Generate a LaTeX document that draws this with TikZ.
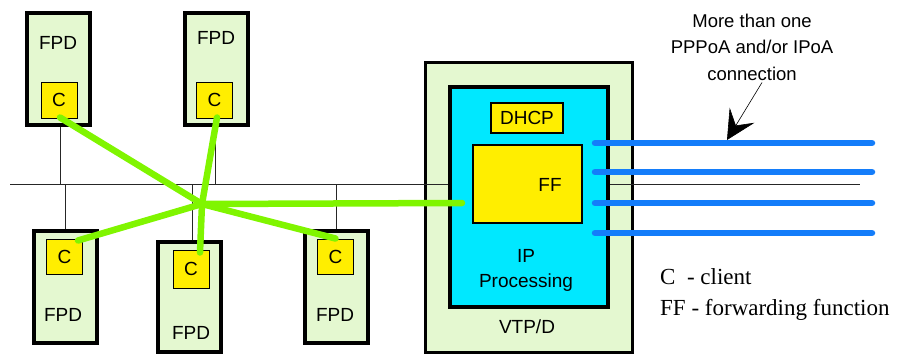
\documentclass[tikz,border=0pt]{standalone}
\usepackage{fontspec}
\setmainfont{Liberation Serif}
\setsansfont{Liberation Sans}
\usepackage{tikz}
\usetikzlibrary{
  arrows.meta,
  positioning,
  calc
}
\definecolor{fpdgreen}{RGB}{228,248,208}
\definecolor{cyellow}{RGB}{255,238,0}
\definecolor{ipcyan}{RGB}{0,232,255}
\definecolor{vcgreen}{RGB}{128,245,0}
\definecolor{pipeblue}{RGB}{20,125,250}
\newcommand{\labfont}{\fontsize{19}{25}\selectfont\sffamily}

\begin{document}
\begin{tikzpicture}[x=1pt, y=-1pt,
  fpd/.style={draw=black, fill=fpdgreen, line width=4pt, inner sep=0pt,
              minimum width=63pt, minimum height=112pt},
  client/.style={draw=black, fill=cyellow, line width=1pt, inner sep=0pt,
                 minimum width=36pt, minimum height=36pt, font=\labfont},
  fbox/.style={draw=black, fill=cyellow, line width=1.2pt, inner sep=0pt},
  lab/.style={font=\labfont, inner sep=0pt, align=center},
  bus/.style={line width=0.8pt, color=black!85},
  vc/.style={line width=6.5pt, color=vcgreen, line cap=round},
  pipe/.style={line width=6.5pt, color=pipeblue, line cap=round},
  legend/.style={font=\fontsize{23}{26}\selectfont\rmfamily, anchor=west, inner sep=0pt}
]
  \useasboundingbox (0,0) rectangle (900,354);

  % VTP/D box (drawn first, the bus runs over it)
  \node[draw=black, fill=fpdgreen, line width=3pt, inner sep=0pt,
        minimum width=207pt, minimum height=290pt] (vtp) at (528.5,207) {};
  \node[lab] (vtpname) at (527,327) {VTP/D};

  % the bus
  \coordinate (busW) at (10,184);
  \coordinate (busE) at (860,184);
  \draw[bus] (busW) -- (busE);

  % IP processing
  \node[draw=black, fill=ipcyan, line width=3.5pt, inner sep=0pt,
        minimum width=158pt, minimum height=220pt] (ipp) at (529,197) {};
  \node[fbox, minimum width=72pt, minimum height=30pt, font=\labfont] (dhcp) at (527,118) {DHCP};
  \node[fbox, minimum width=109pt, minimum height=78pt] (ff) at (527.5,184) {};
  \node[lab] (fftxt) at (550,185) {FF};
  \node[lab] (iptxt) at (526,270) {IP\\Processing};

  % FPDs on top
  \node[fpd] (fpdA) at (58.5,69) {};
  \node[lab] (fpdAname) at (58,43) {FPD};
  \node[client] (cA) at (59,100) {C};
  \node[fpd] (fpdB) at (216,69) {};
  \node[lab] (fpdBname) at (216,38) {FPD};
  \node[client] (cB) at (214.5,100) {C};

  % FPDs below
  \node[fpd] (fpdC) at (65,287) {};
  \node[lab] (fpdCname) at (63,315) {FPD};
  \node[client, minimum height=35pt] (cC) at (64.5,256.5) {C};
  \node[fpd, minimum height=110pt] (fpdD) at (189.5,297) {};
  \node[lab] (fpdDname) at (191,333) {FPD};
  \node[client, minimum height=38pt] (cD) at (191,269) {C};
  \node[fpd] (fpdE) at (336.5,287) {};
  \node[lab] (fpdEname) at (335,315) {FPD};
  \node[client, minimum height=35pt] (cE) at (335.5,256.5) {C};

  % drops to the bus
  \draw[bus] ([xshift=1.5pt]fpdA.south) -- ([xshift=1.5pt]fpdA.south |- busW);
  \draw[bus] ([xshift=-1pt]fpdB.south) -- ([xshift=-1pt]fpdB.south |- busW);
  \draw[bus] (fpdC.north) -- (fpdC.north |- busW);
  \draw[bus] ([xshift=2.5pt]fpdD.north) -- ([xshift=2.5pt]fpdD.north |- busW);
  \draw[bus] (fpdE.north) -- (fpdE.north |- busW);

  % client connections
  \coordinate (hub) at (202,204);
  \coordinate (ffin) at (462,203);
  \draw[vc] (hub) -- ([xshift=1pt,yshift=1pt]cA.south);
  \draw[vc] (hub) -- ([xshift=2.5pt,yshift=1pt]cB.south);
  \draw[vc] (hub) -- ([xshift=-5pt,yshift=-2pt]cC.north east);
  \draw[vc] (hub) -- ([xshift=9pt,yshift=-3pt]cD.north);
  \draw[vc] (hub) -- (cE.north);
  \draw[vc] (hub) -- (ffin);

  % PPPoA / IPoA connections
  \foreach \y [count=\i] in {143,172,203,233} {
    \coordinate (pin\i) at (595,\y);
    \coordinate (pout\i) at (872,\y);
    \draw[pipe] (pin\i) -- (pout\i);
  }

  % note
  \node[lab, font=\fontsize{18.5}{26.5}\selectfont\sffamily] (note) at (752,47)
    {More than one\\PPPoA and/or IPoA\\connection};
  \coordinate (tip) at (727,140);
  \draw[-{Stealth[length=29pt,width=29pt,inset=12pt]}, line width=0.6pt]
    ([xshift=10pt,yshift=-2pt]note.south) -- (tip);

  % legend
  \node[legend] (legC) at (660,277) {C\ \ - client};
  \node[legend] (legFF) at (660,310) {FF - forwarding function};
\end{tikzpicture}
\end{document}
